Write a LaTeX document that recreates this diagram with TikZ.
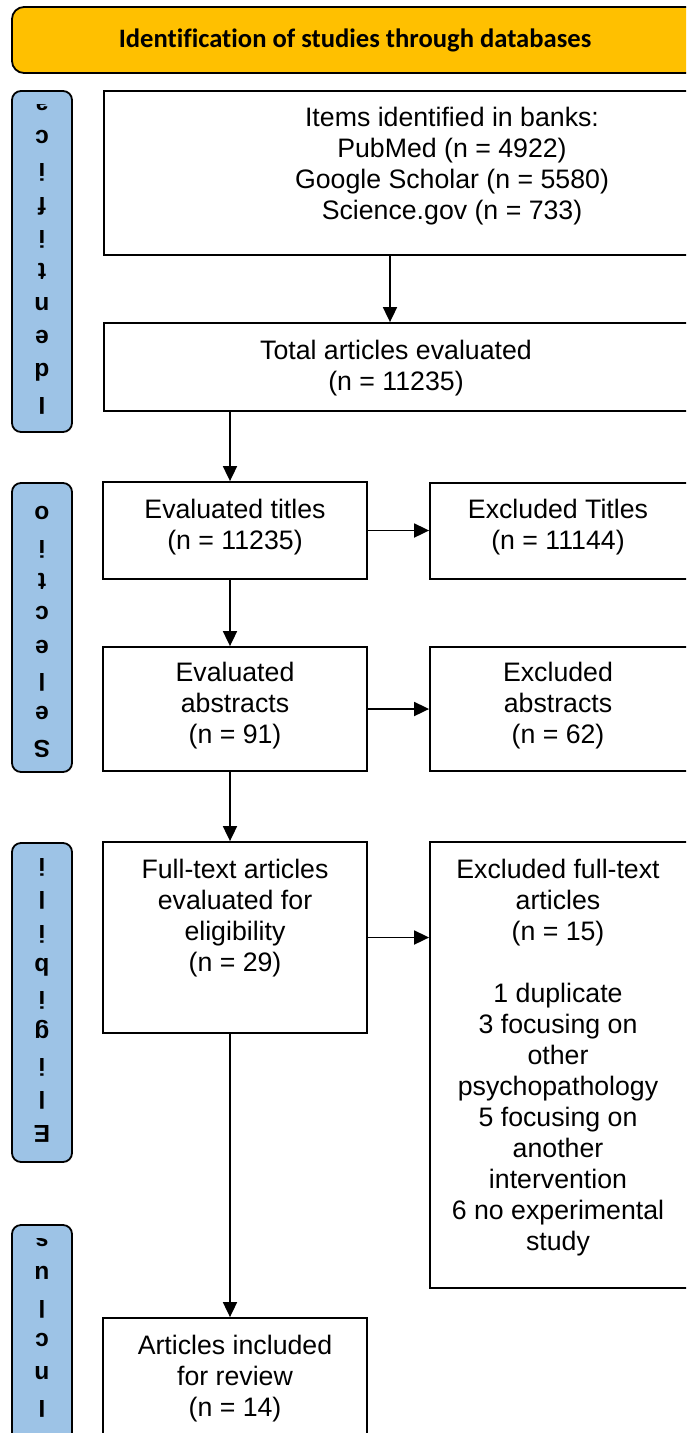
\documentclass[tikz,border=0pt]{standalone}
\usepackage{fontspec}
\setmainfont{Liberation Sans}[Ligatures=NoCommon]
\newfontfamily\hdrfont{Carlito}[Ligatures=NoCommon]
\usetikzlibrary{arrows.meta,calc}
\definecolor{hdrfill}{RGB}{255,192,0}
\definecolor{sidefill}{RGB}{157,195,230}
\begin{document}
\begin{tikzpicture}[x=1pt,y=-1pt,
  box/.style={draw=black,line width=1.8pt,rectangle,inner sep=0pt},
  txt/.style={align=center,inner sep=0pt,font=\fontsize{26.7}{31}\selectfont},
  sidebox/.style={draw=black,line width=1.8pt,fill=sidefill,rounded corners=9pt,rectangle,inner sep=0pt,minimum width=60pt},
  sl/.style={rotate=180,anchor=base,inner sep=0pt,font=\bfseries\fontsize{24.5}{28}\selectfont},
  arr/.style={line width=1.8pt,-{Triangle[length=15pt,width=14pt]}}]
\useasboundingbox (0,0) rectangle (686,1433);
\clip (0,0) rectangle (686,1433);

% header
\node[draw=black,line width=1.8pt,fill=hdrfill,rounded corners=12pt,rectangle,
      minimum width=686pt,minimum height=66pt,inner sep=0pt,
      font=\hdrfont\bfseries\fontsize{26.6}{30}\selectfont] (hdr) at (355,40)
      {Identification of studies through databases};

% side boxes
\node[sidebox,minimum height=341pt] (sid) at (42,261.5) {};
\node[sidebox,minimum height=289pt] (ssel) at (42,627.5) {};
\node[sidebox,minimum height=319pt] (seli) at (42,1002.5) {};
\node[sidebox,minimum height=245pt] (sinc) at (42,1347.5) {};

\begin{scope}
\clip (12,104) rectangle (72,430);
\foreach \ch [count=\k from 0] in {I,d,e,n,t,i,f,i,c,a}
  \node[sl] (lid\k) at (42,{397-33.3*\k}) {\ch};
\end{scope}
\begin{scope}
\clip (12,496) rectangle (72,770);
\foreach \ch [count=\k from 0] in {S,e,l,e,c,t,i,o,n}
  \node[sl] (lsel\k) at (42,{740-33.3*\k}) {\ch};
\end{scope}
\begin{scope}
\clip (12,856) rectangle (72,1160);
\foreach \ch [count=\k from 0] in {E,l,i,g,i,b,i,l,i,t}
  \node[sl] (leli\k) at (42,{1125-33.3*\k}) {\ch};
\end{scope}
\begin{scope}
\clip (12,1238) rectangle (72,1470);
\foreach \ch [count=\k from 0] in {I,n,c,l,u,s,i}
  \node[sl] (linc\k) at (42,{1400-33.3*\k}) {\ch};
\end{scope}

% main boxes
\node[box,minimum width=616pt,minimum height=164pt] (b1) at (412,173) {};
\node[box,minimum width=616pt,minimum height=88pt] (b2) at (412,367) {};
\node[box,minimum width=264pt,minimum height=97pt] (tt) at (235,530.5) {};
\node[box,minimum width=290pt,minimum height=96pt] (xt) at (575,531) {};
\node[box,minimum width=264pt,minimum height=124pt] (ab) at (235,709) {};
\node[box,minimum width=290pt,minimum height=124pt] (xa) at (575,709) {};
\node[box,minimum width=264pt,minimum height=191pt] (ft) at (235,937.5) {};
\node[box,minimum width=290pt,minimum height=446pt] (xf) at (575,1065) {};
\node[box,minimum width=264pt,minimum height=142pt] (inc) at (235,1389) {};

% texts
\node[txt] (t1) at (452,166) {Items identified in banks:\\PubMed (n = 4922)\\Google Scholar (n = 5580)\\Science.gov (n = 733)};
\node[txt] (t2) at (396,368) {Total articles evaluated\\(n = 11235)};
\node[txt] (ttt) at (235,527) {Evaluated titles\\(n = 11235)};
\node[txt] (txt) at (558,527) {Excluded Titles\\(n = 11144)};
\node[txt] (tab) at (235,706) {Evaluated\\abstracts\\(n = 91)};
\node[txt] (txa) at (558,706) {Excluded\\abstracts\\(n = 62)};
\node[txt] (tft) at (235,918) {Full-text articles\\evaluated for\\eligibility\\(n = 29)};
\node[txt] (txf) at (558,1058) {Excluded full-text\\articles\\(n = 15)\\[31pt]1 duplicate\\3 focusing on\\other\\psychopathology\\5 focusing on\\another\\intervention\\6 no experimental\\study};
\node[txt] (tinc) at (235,1379) {Articles included\\for review\\(n = 14)};

% connectors
\coordinate (cL) at (230,0);
\coordinate (cA) at (390,0);
\draw[arr] (b1.south -| cA) -- (b2.north -| cA);
\draw[arr] (b2.south -| cL) -- (tt.north -| cL);
\draw[arr] (tt.south -| cL) -- (ab.north -| cL);
\draw[arr] (ab.south -| cL) -- (ft.north -| cL);
\draw[arr] (ft.south -| cL) -- (inc.north -| cL);
\draw[arr] (tt.east) -- (xt.west |- tt.east);
\draw[arr] (ab.east) -- (xa.west);
\draw[arr] (ft.east) -- (xf.west |- ft.east);
\end{tikzpicture}
\end{document}
